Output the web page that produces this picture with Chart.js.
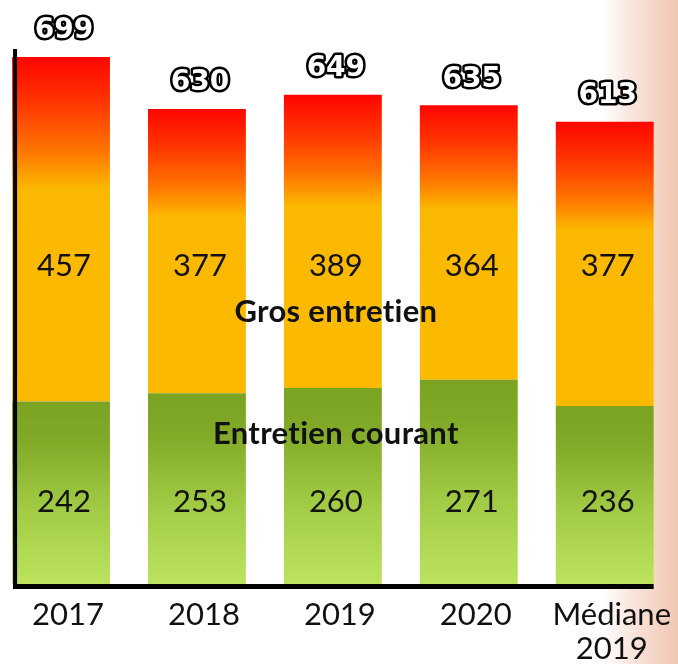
<!DOCTYPE html>
<html>
<head>
<meta charset="utf-8">
<script src="https://cdn.jsdelivr.net/npm/chart.js@4.4.1/dist/chart.umd.min.js"></script>
<style>
  html, body { margin: 0; padding: 0; }
  body {
    width: 678px; height: 664px; overflow: hidden;
    background: linear-gradient(to right, #ffffff 0px, #ffffff 602px, #f9e5dc 632px, #f4d3c4 658px, #f1c7b4 678px);
  }
  #wrap { position: relative; width: 678px; height: 664px; }
</style>
</head>
<body>
<div id="wrap"><canvas id="c" width="678" height="664"></canvas></div>
<script>
const categories = ['2017', '2018', '2019', '2020', ['Médiane', '2019']];
const entretienCourant = [242, 253, 260, 271, 236];
const grosEntretien = [457, 377, 389, 364, 377];
const totals = [699, 630, 649, 635, 613];
const seriesNames = ['Entretien courant', 'Gros entretien'];

const FONT = 'Lato, "Open Sans", sans-serif';

function segGradient(context, stops, lowerArr, upperArr) {
  const chart = context.chart;
  const area = chart.chartArea;
  if (!area || context.type !== 'data') return stops[stops.length - 1][1];
  const y = chart.scales.y;
  const i = context.dataIndex;
  const lo = lowerArr ? lowerArr[i] : 0;
  const top = y.getPixelForValue(lo + upperArr[i]);
  const bot = y.getPixelForValue(lo);
  const g = chart.ctx.createLinearGradient(0, top, 0, bot);
  stops.forEach(s => g.addColorStop(s[0], s[1]));
  return g;
}

const greenStops = [[0, '#79a320'], [0.2, '#7fa926'], [0.6, '#a2cc45'], [1, '#bde35e']];
const orangeStops = [[0, '#ff0500'], [0.14, '#ff3800'], [0.27, '#fe7400'], [0.38, '#fbb800'], [1, '#fbba00']];

const labelsPlugin = {
  id: 'labelsPlugin',
  afterDatasetsDraw(chart) {
    const c = chart.ctx;
    const area = chart.chartArea;
    const y = chart.scales.y;
    const bars = chart.getDatasetMeta(0).data;
    const topBars = chart.getDatasetMeta(1).data;
    const first = bars[0], last = bars[bars.length - 1];
    c.save();
    // axis lines
    c.fillStyle = '#000';
    const axLeft = first.x - first.width / 2 + 1;
    c.fillRect(axLeft, area.top + 38, 4, area.bottom + 5 - (area.top + 38));
    c.fillRect(axLeft, area.bottom, (last.x + last.width / 2) - axLeft, 5);

    // value labels inside segments
    c.font = '31px ' + FONT;
    c.fillStyle = '#111';
    c.textAlign = 'center';
    c.textBaseline = 'middle';
    bars.forEach((b, i) => {
      c.fillText(String(entretienCourant[i]), b.x + 3, area.bottom - 82);
      c.fillText(String(grosEntretien[i]), b.x + 3, area.bottom - 318);
    });

    // totals with outline
    c.font = 'bold 28px "DejaVu Sans", sans-serif';
    c.lineJoin = 'round';
    topBars.forEach((b, i) => {
      const ty = y.getPixelForValue(totals[i]) - 26;
      c.lineWidth = 5;
      c.strokeStyle = '#000';
      c.strokeText(String(totals[i]), b.x + 3, ty);
      c.fillStyle = '#fff';
      c.fillText(String(totals[i]), b.x + 3, ty);
    });

    // series names
    const cx = (area.left + area.right) / 2 + 3;
    c.font = 'bold 31px ' + FONT;
    if ('letterSpacing' in c) c.letterSpacing = '0.3px';
    c.fillStyle = '#111';
    c.fillText(seriesNames[1], cx, area.bottom - 272);
    c.fillText(seriesNames[0], cx, area.bottom - 150);
    c.restore();
  }
};

new Chart(document.getElementById('c'), {
  type: 'bar',
  data: {
    labels: categories,
    datasets: [
      {
        label: seriesNames[0],
        data: entretienCourant,
        backgroundColor: ctx => segGradient(ctx, greenStops, null, entretienCourant),
        borderWidth: 0,
        clip: false,
        categoryPercentage: 0.72,
        barPercentage: 1
      },
      {
        label: seriesNames[1],
        data: grosEntretien,
        backgroundColor: ctx => segGradient(ctx, orangeStops, entretienCourant, grosEntretien),
        borderWidth: 0,
        clip: false,
        categoryPercentage: 0.72,
        barPercentage: 1
      }
    ]
  },
  options: {
    responsive: false,
    animation: false,
    devicePixelRatio: 1,
    layout: { padding: { top: 11, left: 61, right: 71, bottom: 0 } },
    plugins: { legend: { display: false }, tooltip: { enabled: false } },
    scales: {
      x: {
        stacked: true,
        offset: false,
        grid: { display: false, drawTicks: false },
        border: { display: false },
        afterFit(scale) { scale.height = 80; },
        ticks: {
          color: '#111',
          padding: 14,
          labelOffset: 7,
          maxRotation: 0,
          autoSkip: false,
          font: { family: FONT, size: 31, lineHeight: 1.1 }
        }
      },
      y: {
        stacked: true,
        display: false,
        min: 0,
        max: 760
      }
    }
  },
  plugins: [labelsPlugin]
});
</script>
</body>
</html>
